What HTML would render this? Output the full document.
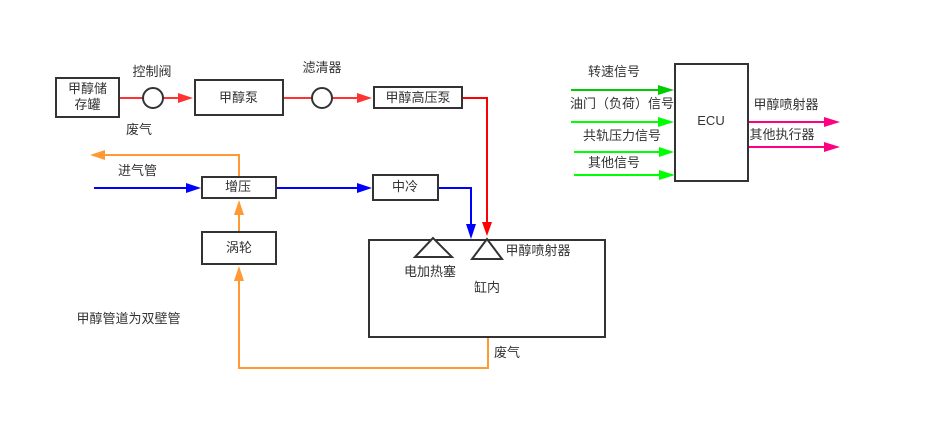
<!DOCTYPE html>
<html lang="zh">
<head>
<meta charset="utf-8">
<style>
html,body{margin:0;padding:0;background:#fff;width:927px;height:436px;overflow:hidden}
svg{display:block}
text{font-family:"Liberation Sans","Noto Sans CJK SC",sans-serif;font-size:13px;fill:#333;text-anchor:middle}
.b{fill:#fff;stroke:#333;stroke-width:2}
.n{fill:none;stroke:#333;stroke-width:2}
.r{fill:none;stroke:#ff3333;stroke-width:2}
.R{fill:none;stroke:#ff0000;stroke-width:2}
.u{fill:none;stroke:#0000ff;stroke-width:2}
.o{fill:none;stroke:#ff9933;stroke-width:2}
.g{fill:none;stroke:#00ff00;stroke-width:2}
.p{fill:none;stroke:#ff0080;stroke-width:2}
</style>
</head>
<body>
<svg width="927" height="436" viewBox="0 0 927 436" xmlns="http://www.w3.org/2000/svg">
<!-- red line top -->
<path class="r" d="M119 98H143M163 98H180"/>
<polygon points="178,93 193,98 178,103" fill="#ff3333"/>
<path class="r" d="M283 98H312M332 98H359"/>
<polygon points="357,93 372,98 357,103" fill="#ff3333"/>
<path class="R" d="M462 98H487V224"/>
<polygon points="482,222 492,222 487,236" fill="#ff0000"/>

<rect class="b" x="56" y="78" width="63" height="39"/>
<rect class="b" x="195" y="80" width="88" height="35"/>
<rect class="b" x="374" y="87" width="88" height="21"/>
<circle class="n" cx="153" cy="98" r="10"/>
<circle class="n" cx="322" cy="98" r="10"/>

<!-- orange -->
<path class="o" d="M239 177V155H103"/>
<polygon points="105,150 90,155 105,160" fill="#ff9933"/>
<path class="o" d="M239 232V213"/>
<polygon points="234,215 239,200 244,215" fill="#ff9933"/>
<path class="o" d="M488 338V368H239V279"/>
<polygon points="234,281 239,266 244,281" fill="#ff9933"/>

<!-- blue -->
<path class="u" d="M94 188H188"/>
<polygon points="186,183 201,188 186,193" fill="#0000ff"/>
<path class="u" d="M277 188H359"/>
<polygon points="357,183 372,188 357,193" fill="#0000ff"/>
<path class="u" d="M438 188H471V226"/>
<polygon points="466,224 476,224 471,239" fill="#0000ff"/>

<rect class="b" x="202" y="177" width="74" height="21"/>
<rect class="b" x="202" y="232" width="74" height="32"/>
<rect class="b" x="373" y="175" width="65" height="25"/>

<!-- cylinder -->
<rect class="n" x="369" y="240" width="236" height="97"/>
<polygon class="b" points="433,238 415,257 452,257"/>
<polygon class="b" points="487,239 472,259 502,259"/>

<!-- ECU -->
<rect class="b" x="675" y="64" width="73" height="117"/>
<path d="M571 90H660" fill="none" stroke="#00cc00" stroke-width="2"/>
<polygon points="658,85 674,90 658,95" fill="#00cc00"/>
<path class="g" d="M571 122H660"/>
<polygon points="658,117 674,122 658,127" fill="#00ff00"/>
<path class="g" d="M574 152H660"/>
<polygon points="659,147 674,152 659,157" fill="#00ff00"/>
<path class="g" d="M574 175H661"/>
<polygon points="659,170 675,175 659,180" fill="#00ff00"/>
<path class="p" d="M749 122H826"/>
<polygon points="824,117 840,122 824,127" fill="#ff0080"/>
<path class="p" d="M749 147H826"/>
<polygon points="824,142 840,147 824,152" fill="#ff0080"/>

<!-- labels -->
<text x="87.5" y="93">甲醇储</text>
<text x="87.5" y="109">存罐</text>
<text x="238.5" y="102">甲醇泵</text>
<text x="418" y="102">甲醇高压泵</text>
<text x="152" y="76">控制阀</text>
<text x="322" y="72">滤清器</text>
<text x="139" y="134">废气</text>
<text x="137.5" y="175">进气管</text>
<text x="238" y="191">增压</text>
<text x="239" y="252">涡轮</text>
<text x="405" y="191">中冷</text>
<text x="430" y="276">电加热塞</text>
<text x="538" y="255">甲醇喷射器</text>
<text x="487" y="292">缸内</text>
<text x="507" y="357">废气</text>
<text x="128.5" y="323">甲醇管道为双壁管</text>
<text x="614" y="76">转速信号</text>
<text x="622" y="108">油门（负荷）信号</text>
<text x="622" y="140">共轨压力信号</text>
<text x="614" y="167">其他信号</text>
<text x="711" y="125">ECU</text>
<text x="786" y="109">甲醇喷射器</text>
<text x="782" y="139">其他执行器</text>
</svg>
</body>
</html>
